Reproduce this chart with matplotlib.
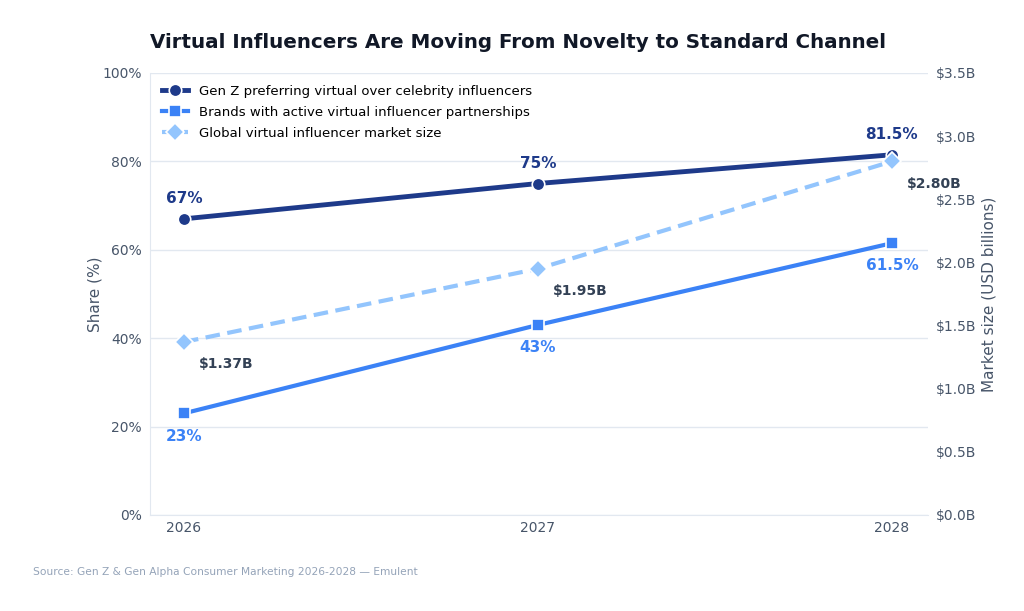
import matplotlib
matplotlib.use('Agg')
import matplotlib.pyplot as plt
from matplotlib.ticker import FuncFormatter, MultipleLocator

years = [2026, 2027, 2028]
genz_pref = [67, 75, 81.5]
brand_partners = [23, 43, 61.5]
market_size = [1.37, 1.95, 2.80]

genz_labels = ['67%', '75%', '81.5%']
brand_labels = ['23%', '43%', '61.5%']
market_labels = ['$1.37B', '$1.95B', '$2.80B']

NAVY = '#1e3a8a'
BLUE = '#3b82f6'
LIGHT = '#93c5fd'
TEXT = '#475569'
GRID = '#e2e8f0'

plt.rcParams['font.family'] = ['DejaVu Sans']

fig = plt.figure(figsize=(10.24, 6.11), dpi=100)
ax = fig.add_axes([150/1024, 1 - 515/611, 778/1024, 442/611])
ax2 = ax.twinx()

l3, = ax2.plot(years, market_size, color=LIGHT, lw=3, ls=(0, (3.5, 1.8)),
               marker='D', ms=9, mec='white', mew=1.2,
               label='Global virtual influencer market size')
l1, = ax.plot(years, genz_pref, color=NAVY, lw=3.5, marker='o', ms=9,
              mec='white', mew=1.2, label='Gen Z preferring virtual over celebrity influencers')
l2, = ax.plot(years, brand_partners, color=BLUE, lw=3, marker='s', ms=9,
              mec='white', mew=1.2, label='Brands with active virtual influencer partnerships')

# market line sits on top of the share lines
ax2.set_zorder(ax.get_zorder() + 1)
ax2.patch.set_visible(False)

for x, y, t in zip(years, genz_pref, genz_labels):
    ax.annotate(t, (x, y), xytext=(0, 9), textcoords='offset points',
                ha='center', va='bottom', color=NAVY, fontsize=11, fontweight='bold')
for x, y, t in zip(years, brand_partners, brand_labels):
    ax.annotate(t, (x, y), xytext=(0, -11), textcoords='offset points',
                ha='center', va='top', color=BLUE, fontsize=11, fontweight='bold')
for x, y, t in zip(years, market_size, market_labels):
    ax2.annotate(t, (x, y), xytext=(11, -11), textcoords='offset points',
                 ha='left', va='top', color='#334155', fontsize=10, fontweight='bold')

ax.set_ylim(0, 100)
ax2.set_ylim(0, 3.5)
ax.set_xlim(2025.904, 2028.102)
ax.set_xticks(years)
ax.set_xticklabels([str(y) for y in years])
ax.yaxis.set_major_locator(MultipleLocator(20))
ax.yaxis.set_major_formatter(FuncFormatter(lambda v, p: f'{v:.0f}%'))
ax2.yaxis.set_major_locator(MultipleLocator(0.5))
ax2.yaxis.set_major_formatter(FuncFormatter(lambda v, p: f'${v:.1f}B'))

ax.grid(axis='y', color=GRID, lw=1)
ax.set_axisbelow(True)
for a in (ax, ax2):
    a.tick_params(length=0, colors=TEXT, labelsize=10)
    for s in a.spines.values():
        s.set_visible(False)
ax.spines['left'].set_visible(True)
ax.spines['left'].set_color(GRID)
ax.spines['bottom'].set_visible(True)
ax.spines['bottom'].set_color(GRID)
ax.tick_params(axis='x', pad=4)
ax.tick_params(axis='y', pad=6)
ax2.tick_params(axis='y', pad=6)

ax.set_ylabel('Share (%)', color=TEXT, fontsize=11, labelpad=0)
ax2.set_ylabel('Market size (USD billions)', color=TEXT, fontsize=11, labelpad=3)

ax2.legend(handles=[l1, l2, l3], loc='upper left', frameon=False, fontsize=9.5,
           bbox_to_anchor=(0.0, 1.0), borderaxespad=0.5, handlelength=2.0,
           labelspacing=0.6)

fig.text(518/1024, 1 - 43/611, 'Virtual Influencers Are Moving From Novelty to Standard Channel',
         ha='center', va='center', fontsize=14.3, fontweight='bold', color='#111827')
fig.text(33/1024, 1 - 572/611, 'Source: Gen Z & Gen Alpha Consumer Marketing 2026-2028 \u2014 Emulent',
         ha='left', va='center', fontsize=7.7, color='#94a3b8')

fig.savefig('out.png', dpi=100)
